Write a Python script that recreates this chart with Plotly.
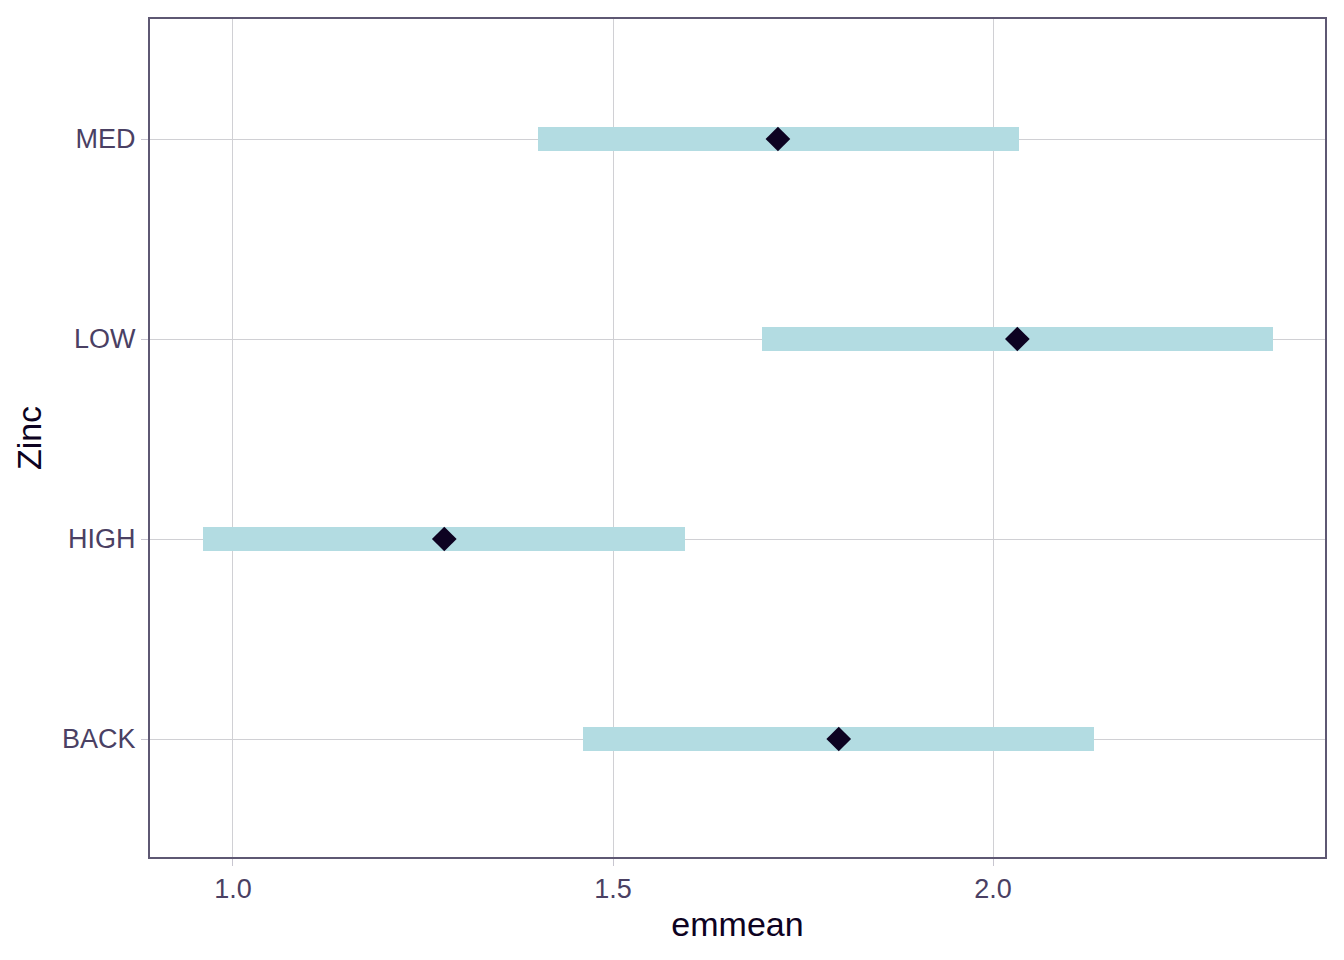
import plotly.graph_objects as go

categories = ["BACK", "HIGH", "LOW", "MED"]
emmean = [1.797, 1.278, 2.032, 1.717]
lower_cl = [1.461, 0.961, 1.696, 1.401]
upper_cl = [2.133, 1.595, 2.368, 2.034]

fig = go.Figure()
fig.add_trace(go.Bar(
    y=categories,
    x=[u - l for u, l in zip(upper_cl, lower_cl)],
    base=lower_cl,
    orientation="h",
    width=0.12,
    marker=dict(color="#b3dce2", line=dict(width=0)),
    hoverinfo="skip",
    showlegend=False,
))
fig.add_trace(go.Scatter(
    y=categories,
    x=emmean,
    mode="markers",
    marker=dict(symbol="diamond", size=19, color="#0d0221"),
    showlegend=False,
))

# page body has an 8px margin; compensate so the plot area lands where the reference's does
fig.update_layout(
    width=1336, height=952,
    margin=dict(l=142, r=19, t=9, b=103),
    plot_bgcolor="white", paper_bgcolor="white",
    font=dict(family="Liberation Sans, Arial, sans-serif", color="#4a4063"),
    bargap=0,
)
fig.update_xaxes(
    range=[0.8908, 2.4368],
    tickvals=[1.0, 1.5, 2.0], ticktext=["1.0", "1.5", "2.0"],
    showgrid=True, gridcolor="#d0d0d4", gridwidth=1.3,
    zeroline=False,
    showline=True, linecolor="#5e5873", linewidth=2, mirror=True,
    ticks="outside", ticklen=7, tickcolor="#c8c6d0", tickwidth=1.3,
    tickfont=dict(size=27, color="#4a4063"),
    title=dict(text="emmean", font=dict(size=34, color="#0d0221"), standoff=9),
)
fig.update_yaxes(
    categoryorder="array", categoryarray=categories,
    range=[-0.59, 3.6],
    showgrid=True, gridcolor="#d0d0d4", gridwidth=1.3,
    zeroline=False,
    showline=True, linecolor="#5e5873", linewidth=2, mirror=True,
    ticks="outside", ticklen=7, tickcolor="#c8c6d0", tickwidth=1.3,
    tickfont=dict(size=27, color="#4a4063"),
    title=dict(text="Zinc", font=dict(size=34, color="#0d0221"), standoff=10),
)

fig.write_html("out.html")
